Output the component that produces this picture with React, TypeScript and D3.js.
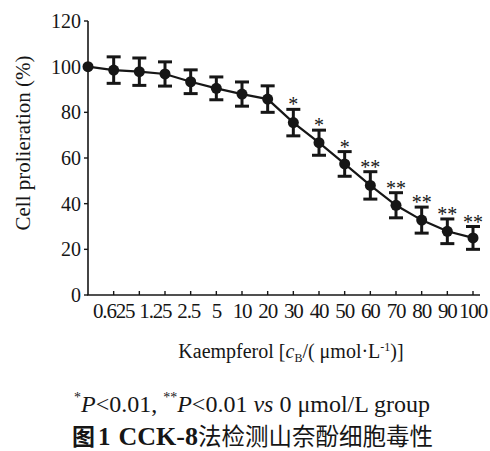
import React from "react";
import * as d3 from "d3";

// dose slots along x (the 4th slot has no label in the source figure)
const doseLabels = ["0", "0.625", "1.25", "", "2.5", "5", "10", "20", "30", "40", "50", "60", "70", "80", "90", "100"];
const meanValues = [100, 98.5, 97.8, 96.8, 93.4, 90.5, 88, 85.8, 75.5, 66.7, 57.4, 48, 39.3, 32.8, 27.9, 25];
const sdValues = [0, 5.8, 6, 5.3, 5.2, 5, 5.3, 5.8, 5.8, 5.5, 5.4, 6, 5.5, 5.7, 5.4, 5];
const starMarks = ["", "", "", "", "", "", "", "", "*", "*", "*", "**", "**", "**", "**", "**"];
const yTicks = [0, 20, 40, 60, 80, 100, 120];

const W = 490;
const H = 451;
const serif = "'Liberation Serif', 'Times New Roman', serif";
const cjk = "'Noto Sans CJK SC', sans-serif";
const ink = "#161616";

// small nudges for the crowded labels near the origin
const labelNudge: Record<string, number> = { "0.625": 0, "1.25": 16, "2.5": -2 };

export default function App() {
  const x = d3.scalePoint<number>().domain(d3.range(doseLabels.length)).range([88, 473]);
  const y = d3.scaleLinear().domain([0, 120]).range([295, 21]);

  const line = d3
    .line<number>()
    .x((d, i) => x(i)!)
    .y((d) => y(d));

  const capW = 7;

  return (
    <svg
      width={W}
      height={H}
      style={{ position: "absolute", left: 0, top: 0, background: "#fff" }}
      fontFamily={serif}
    >
      {/* axes */}
      <line x1={88} x2={88} y1={y(120)} y2={y(0)} stroke={ink} strokeWidth={1.6} />
      <line x1={87.2} x2={480} y1={y(0)} y2={y(0)} stroke={ink} strokeWidth={1.6} />
      {yTicks.map((t) => (
        <g key={t} transform={`translate(88,${y(t)})`}>
          <line x1={-4} x2={0} stroke={ink} strokeWidth={1.4} />
          <text x={-7} dy="0.35em" textAnchor="end" fontSize={20} fontFamily={serif} fill={ink}>
            {t}
          </text>
        </g>
      ))}
      {doseLabels.map((lab, i) =>
        i === 0 ? null : (
          <g key={i} transform={`translate(${x(i)},${y(0)})`}>
            <line y1={0} y2={-4} stroke={ink} strokeWidth={1.4} />
            {lab && (
              <text
                x={labelNudge[lab] || 0}
                y={23}
                textAnchor="middle"
                fontSize={21}
                letterSpacing={-1.2}
                fontFamily={serif}
                fill={ink}
              >
                {lab}
              </text>
            )}
          </g>
        )
      )}

      {/* axis titles */}
      <text
        transform={`translate(30,${(y(120) + y(0)) / 2 - 15}) rotate(-90)`}
        textAnchor="middle"
        fontSize={21}
        fontFamily={serif}
        fill={ink}
      >
        Cell prolieration (%)
      </text>
      <text x={291} y={358} textAnchor="middle" fontSize={20} fontFamily={serif} fill={ink}>
        Kaempferol [<tspan fontStyle="italic">c</tspan>
        <tspan fontSize={12} dy={4}>B</tspan>
        <tspan dy={-4}>/( μmol·L</tspan>
        <tspan fontSize={12} dy={-7}>-1</tspan>
        <tspan dy={7}>)]</tspan>
      </text>

      {/* connecting line */}
      <path d={line(meanValues) || ""} fill="none" stroke={ink} strokeWidth={2.2} />

      {/* error bars, points, stars */}
      {meanValues.map((m, i) => {
        const cx = x(i)!;
        const sd = sdValues[i];
        return (
          <g key={i}>
            {sd > 0 && (
              <g stroke={ink} strokeWidth={3}>
                <line x1={cx} x2={cx} y1={y(m + sd)} y2={y(m - sd)} />
                <line x1={cx - capW} x2={cx + capW} y1={y(m + sd)} y2={y(m + sd)} />
                <line x1={cx - capW} x2={cx + capW} y1={y(m - sd)} y2={y(m - sd)} />
              </g>
            )}
            <circle cx={cx} cy={y(m)} r={5.5} fill={ink} />
            {starMarks[i] && (
              <text x={cx} y={y(m + sd) + 2} textAnchor="middle" fontSize={20} fontFamily={serif} fill={ink}>
                {starMarks[i]}
              </text>
            )}
          </g>
        );
      })}

      {/* footnote */}
      <text x={252} y={412} textAnchor="middle" fontSize={24} fontFamily={serif} fill={ink}>
        <tspan fontSize={14} dy={-10}>*</tspan>
        <tspan dy={10} fontStyle="italic">P</tspan>
        <tspan>{"<0.01, "}</tspan>
        <tspan fontSize={14} dy={-10}>**</tspan>
        <tspan dy={10} fontStyle="italic">P</tspan>
        <tspan>{"<0.01 "}</tspan>
        <tspan fontStyle="italic">vs</tspan>
        <tspan>{" 0 μmol/L group"}</tspan>
      </text>

      {/* caption */}
      <text x={72} y={445} fill={ink}>
        <tspan fontFamily={cjk} fontWeight={700} fontSize={23}>图</tspan>
        <tspan fontFamily={serif} fontWeight={700} fontSize={25} dx={3}>1</tspan>
        <tspan fontFamily={serif} fontWeight={700} fontSize={26} dx={8}>CCK-8</tspan>
        <tspan fontFamily={cjk} fontSize={23.5}>法检测山奈酚细胞毒性</tspan>
      </text>
    </svg>
  );
}
